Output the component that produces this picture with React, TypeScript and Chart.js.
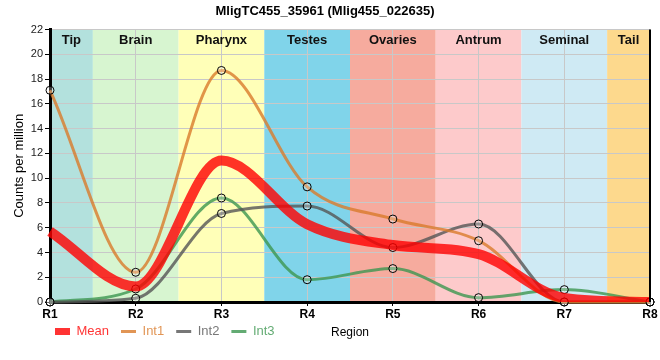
import React, { useEffect, useRef } from "react";
import { Chart, registerables } from "chart.js";

Chart.register(...registerables);

const regions = ["R1", "R2", "R3", "R4", "R5", "R6", "R7", "R8"];
const bandNames = ["Tip", "Brain", "Pharynx", "Testes", "Ovaries", "Antrum", "Seminal", "Tail"];
const bandColors = ["#b3e1dd", "#d7f5d0", "#ffffb8", "#80d4ea", "#f6ab9e", "#fdcacb", "#cfeaf4", "#fdd98d"];
const meanVals = [5.7, 1.25, 11.42, 6.28, 4.6, 3.87, 0.33, 0];
const int1 = [17.1, 2.4, 18.7, 9.3, 6.7, 4.95, 0, 0];
const int2 = [0, 0.3, 7.15, 7.75, 4.4, 6.3, 0, 0];
const int3 = [0, 1.05, 8.4, 1.8, 2.7, 0.35, 1.0, 0];
const seriesNames = ["Mean", "Int1", "Int2", "Int3"];
const seriesColors = ["rgba(255,0,0,0.8)", "rgba(218,122,42,0.8)", "rgba(85,85,85,0.8)", "rgba(60,150,80,0.8)"];
const legendLineWidths = [7, 3, 3, 3];
const yTitle = "Counts per million";
const xTitle = "Region";
const chartTitle = "MligTC455_35961 (Mlig455_022635)";

const FONT = '"Liberation Sans", Arial, sans-serif';

const decorPlugin = {
  id: "decor",
  afterLayout(chart: any) {
    const lg = chart.legend;
    if (lg) {
      lg.left += 43;
      lg.right += 43;
      lg.top -= 12;
      lg.bottom -= 12;
    }
  },
  beforeDraw(chart: any) {
    const { ctx, chartArea: a, scales } = chart;
    const x = scales.x;
    ctx.save();
    bandNames.forEach((_, i) => {
      const l = Math.max(a.left, x.getPixelForValue(i - 0.5));
      const r = Math.min(a.right, x.getPixelForValue(i + 0.5));
      ctx.fillStyle = bandColors[i];
      ctx.fillRect(l, a.top, r - l, a.bottom - a.top);
    });
    ctx.restore();
  },
  beforeDatasetsDraw(chart: any) {
    const { ctx, chartArea: a, scales } = chart;
    const x = scales.x;
    ctx.save();
    ctx.font = "bold 13px " + FONT;
    ctx.fillStyle = "#111";
    ctx.textAlign = "center";
    ctx.textBaseline = "middle";
    bandNames.forEach((n, i) => {
      const l = Math.max(a.left, x.getPixelForValue(i - 0.5));
      const r = Math.min(a.right, x.getPixelForValue(i + 0.5));
      ctx.fillText(n, (l + r) / 2, a.top + 11);
    });
    ctx.restore();
  },
  afterDraw(chart: any) {
    const { ctx, chartArea: a } = chart;
    ctx.save();
    ctx.strokeStyle = "#000";
    ctx.lineWidth = 2;
    ctx.beginPath();
    ctx.moveTo(a.right, a.top);
    ctx.lineTo(a.right, a.bottom);
    ctx.stroke();
    const hb = chart.legend && chart.legend.legendHitBoxes && chart.legend.legendHitBoxes[0];
    const yy = hb ? hb.top + hb.height / 2 : 330;
    ctx.font = "12px " + FONT;
    ctx.fillStyle = "#000";
    ctx.textAlign = "center";
    ctx.textBaseline = "middle";
    ctx.fillText(xTitle, (a.left + a.right) / 2, yy + 1);
    ctx.restore();
  },
};

export default function App() {
  const ref = useRef<HTMLCanvasElement | null>(null);
  useEffect(() => {
    if (!ref.current) return;
    const data = [meanVals, int1, int2, int3];
    const chart = new Chart(ref.current, {
      type: "line",
      data: {
        labels: regions,
        datasets: data.map((d, i) => ({
          label: seriesNames[i],
          data: d,
          borderColor: seriesColors[i],
          backgroundColor: seriesColors[i],
          borderWidth: i === 0 ? 10 : 3,
          pointRadius: i === 0 ? 0 : 4,
          pointHoverRadius: i === 0 ? 0 : 4,
          pointBorderColor: "#000",
          pointBorderWidth: 1,
          pointBackgroundColor: "rgba(255,255,255,0.25)",
          cubicInterpolationMode: "monotone",
          tension: 0.4,
          fill: false,
          clip: i === 0 ? undefined : false,
        })),
      },
      options: {
        animation: false,
        responsive: false,
        layout: { padding: { left: 0, right: 10, top: 0, bottom: 0 } },
        plugins: {
          title: {
            display: true,
            text: chartTitle,
            color: "#000",
            font: { family: FONT, size: 13, weight: "bold" },
            padding: { top: 4, bottom: 10 },
          },
          legend: {
            display: true,
            position: "bottom",
            align: "start",
            labels: {
              usePointStyle: true,
              pointStyleWidth: 15,
              boxHeight: 13,
              padding: 12,
              font: { family: FONT, size: 13 },
              generateLabels: () =>
                seriesNames.map((n, i) => ({
                  text: n,
                  fillStyle: seriesColors[i],
                  strokeStyle: seriesColors[i],
                  fontColor: seriesColors[i],
                  lineWidth: legendLineWidths[i],
                  pointStyle: "line",
                  hidden: false,
                  datasetIndex: i,
                })),
            },
          },
          tooltip: { enabled: false },
        },
        scales: {
          x: {
            type: "category",
            offset: false,
            afterFit: (s: any) => {
              s.height = 23;
            },
            grid: { color: "#c8c8c8", lineWidth: 1, tickLength: 4, tickColor: "#000", drawTicks: true },
            border: { color: "#000", width: 3 },
            ticks: {
              color: "#000",
              font: { family: FONT, size: 12, weight: "bold" },
              padding: 1,
              maxRotation: 0,
              autoSkip: false,
            },
          },
          y: {
            min: 0,
            max: 22,
            afterFit: (s: any) => {
              s.width = 50;
            },
            grid: { color: "#c8c8c8", lineWidth: 1, tickLength: 5, tickColor: "#000" },
            border: { color: "#000", width: 3 },
            ticks: {
              stepSize: 2,
              color: "#222",
              font: { family: FONT, size: 11 },
              padding: 2,
            },
            title: {
              display: true,
              text: yTitle,
              color: "#000",
              font: { family: FONT, size: 13 },
              padding: { top: 12, bottom: 0 },
            },
          },
        },
      },
      plugins: [decorPlugin],
    } as any);
    return () => chart.destroy();
  }, []);
  return (
    <div style={{ position: "absolute", left: 0, top: 0, width: 660, height: 360 }}>
      <canvas ref={ref} width={660} height={360} />
    </div>
  );
}
